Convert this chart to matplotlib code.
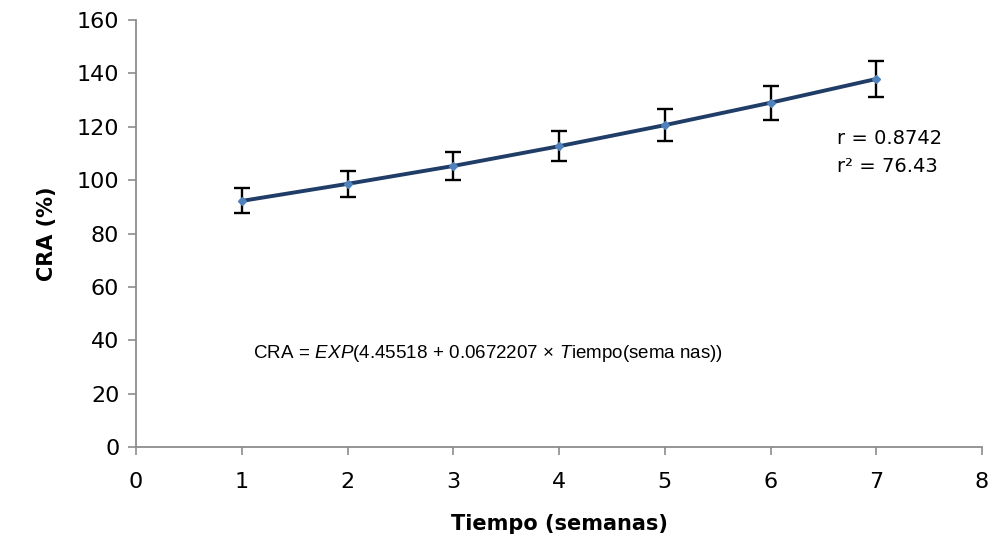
import matplotlib
matplotlib.use("Agg")
import matplotlib.pyplot as plt

weeks = [1, 2, 3, 4, 5, 6, 7]
cra = [92.2, 98.6, 105.3, 112.7, 120.6, 129.0, 137.9]
cra_err = [4.7, 4.9, 5.25, 5.6, 6.05, 6.45, 6.9]
x_ticks = [0, 1, 2, 3, 4, 5, 6, 7, 8]
y_ticks = [0, 20, 40, 60, 80, 100, 120, 140, 160]

plt.rcParams['font.family'] = ['DejaVu Sans']
plt.rcParams['mathtext.fontset'] = 'custom'
plt.rcParams['mathtext.rm'] = 'Liberation Sans'
plt.rcParams['mathtext.it'] = 'Liberation Sans:italic'
axis_grey = '#8c8c8c'

fig = plt.figure(figsize=(9.92, 5.56), dpi=100)
ax = fig.add_axes([136 / 992, 1 - 447 / 556, 846 / 992, 427 / 556])

ax.errorbar(weeks, cra, yerr=cra_err, fmt='none', ecolor='black',
            elinewidth=1.7, capsize=6, capthick=1.7, zorder=2)
ax.plot(weeks, cra, color='#1f3d66', linewidth=2.8, zorder=3)
ax.plot(weeks, cra, linestyle='none', marker='D', markersize=4,
        color='#4f81bd', zorder=4)

ax.set_xlim(0, 8)
ax.set_ylim(0, 160)
ax.set_xticks(x_ticks)
ax.set_yticks(y_ticks)
ax.tick_params(axis='both', colors=axis_grey, labelcolor='black',
               labelsize=16, length=6, width=1.2, direction='out')
ax.tick_params(axis='x', pad=12)
ax.tick_params(axis='y', pad=6)
for side in ('top', 'right'):
    ax.spines[side].set_visible(False)
for side in ('left', 'bottom'):
    ax.spines[side].set_color(axis_grey)
    ax.spines[side].set_linewidth(1.3)

ax.set_xlabel('Tiempo (semanas)', fontsize=15, fontweight='bold', labelpad=16)
ax.set_ylabel('CRA (%)', fontsize=15, fontweight='bold', labelpad=14)

ax.text(6.63, 113.6, 'r = 0.8742', fontsize=14, ha='left', va='baseline')
ax.text(6.63, 103.0, 'r² = 76.43', fontsize=14, ha='left', va='baseline')

ax.text(1.11, 33.5,
        r'CRA$\,=\,$$\mathit{EXP}$(4.45518$\,+\,$0.0672207$\,\times\,$$\mathit{T}$iempo(sema nas))',
        fontsize=13.5, family='Liberation Sans', ha='left', va='baseline')

fig.savefig('out.png', dpi=100)
